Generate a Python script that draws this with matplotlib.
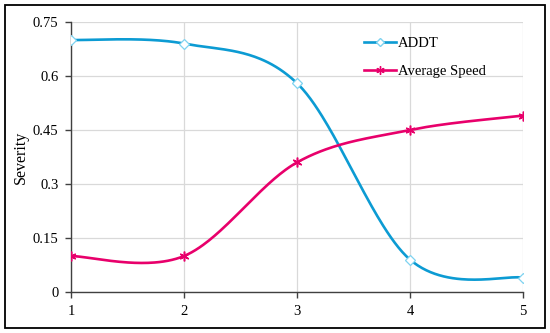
import numpy as np
import matplotlib
matplotlib.use("Agg")
import matplotlib.pyplot as plt
from matplotlib.patches import Rectangle

x_vals = [1, 2, 3, 4, 5]
addt = [0.70, 0.69, 0.58, 0.09, 0.04]
avg_speed = [0.10, 0.10, 0.36, 0.45, 0.49]
y_ticks = [0, 0.15, 0.3, 0.45, 0.6, 0.75]
y_tick_labels = ["0", "0.15", "0.3", "0.45", "0.6", "0.75"]

plt.rcParams['font.family'] = ['Liberation Serif', 'DejaVu Serif']


def smooth(xs, ys, n=60):
    P = np.column_stack([xs, ys]).astype(float)
    Pext = np.vstack([P[0], P, P[-1]])
    out = []
    t = np.linspace(0, 1, n)[:, None]
    for i in range(len(P) - 1):
        p0 = Pext[i + 1]
        p3 = Pext[i + 2]
        c1 = p0 + (Pext[i + 2] - Pext[i]) / 6.0
        c2 = p3 - (Pext[i + 3] - Pext[i + 1]) / 6.0
        seg = ((1 - t) ** 3) * p0 + 3 * ((1 - t) ** 2) * t * c1 + 3 * (1 - t) * t ** 2 * c2 + t ** 3 * p3
        out.append(seg if i == 0 else seg[1:])
    s = np.vstack(out)
    return s[:, 0], s[:, 1]


fig = plt.figure(figsize=(5.5, 3.33), dpi=100)
ax = fig.add_axes([0.129, 0.123, 0.822, 0.811])

blue = '#0C9BD3'
blue_m = '#7FD3F0'
pink = '#E8006B'

sx, sy = smooth(x_vals, addt)
ax.plot(sx, sy, color=blue, lw=1.9, zorder=3)
ax.plot(x_vals, addt, ls='none', marker='D', ms=5.5, mfc='white', mec=blue_m, mew=0.9, zorder=4)
sx2, sy2 = smooth(x_vals, avg_speed)
ax.plot(sx2, sy2, color=pink, lw=1.9, zorder=3)
ax.plot(x_vals, avg_speed, ls='none', marker=(6, 2, 0), ms=7, mec=pink, mew=1.1, zorder=4)

# legend proxies
ax.plot([], [], color=blue, lw=1.9, marker='D', ms=4, mfc='white', mec=blue_m, label='ADDT')
ax.plot([], [], color=pink, lw=1.9, marker=(6, 2, 0), ms=6, mec=pink, label='Average Speed')
leg = ax.legend(loc='upper left', bbox_to_anchor=(0.62, 0.995), frameon=False, fontsize=10.5,
                handlelength=2.2, handletextpad=0.1, labelspacing=1.05)

ax.set_xlim(1, 5)
ax.set_ylim(0, 0.75)
ax.set_xticks(x_vals)
ax.set_xticklabels([str(v) for v in x_vals])
ax.set_yticks(y_ticks)
ax.set_yticklabels(y_tick_labels)
ax.grid(True, color='#D9D9D9', lw=0.9)
ax.set_axisbelow(True)
for s in ['top', 'right']:
    ax.spines[s].set_visible(False)
for s in ['left', 'bottom']:
    ax.spines[s].set_color('#404040')
    ax.spines[s].set_linewidth(1.0)
ax.tick_params(direction='out', length=4, width=1.0, color='#404040', labelsize=10.5, pad=5)
ax.set_ylabel('Severity', fontsize=11.5, labelpad=3)

fig.patches.append(Rectangle((0.009, 0.015), 0.982, 0.97, transform=fig.transFigure,
                             fill=False, edgecolor='black', lw=1.3))

fig.savefig('out.png', dpi=100)
